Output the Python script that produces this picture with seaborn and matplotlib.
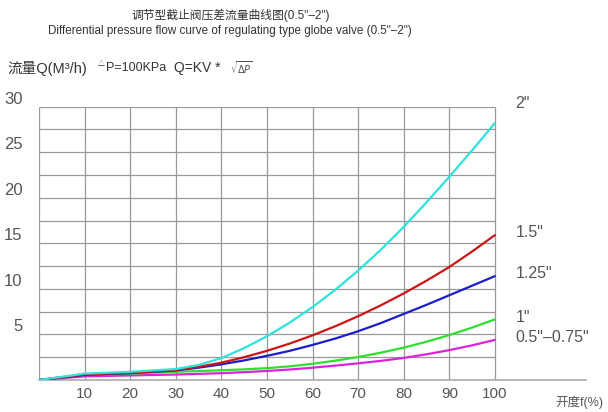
import numpy as np
import pandas as pd
import matplotlib
matplotlib.use('Agg')
import matplotlib.pyplot as plt
import seaborn as sns

# opening (%) and flow Q (m3/h) per valve size
opening = [0, 10, 20, 30, 35, 40, 45, 50, 55, 60, 65, 70, 75, 80, 85, 90, 95, 100]
q_2in = [0, 0.7, 0.9, 1.2, 1.65, 2.4, 3.5, 4.8, 6.3, 8.0, 9.9, 12.0, 14.3, 16.8, 19.5, 22.3, 25.2, 28.2]
q_15in = [0, 0.6, 0.8, 1.1, 1.45, 1.9, 2.5, 3.2, 4.0, 4.9, 5.9, 7.0, 8.2, 9.5, 10.9, 12.4, 14.1, 15.9]
q_125in = [0, 0.55, 0.75, 1.05, 1.35, 1.72, 2.15, 2.65, 3.2, 3.85, 4.55, 5.35, 6.25, 7.25, 8.25, 9.3, 10.35, 11.4]
q_1in = [0, 0.55, 0.7, 0.9, 0.98, 1.07, 1.17, 1.3, 1.5, 1.78, 2.12, 2.52, 3.0, 3.55, 4.2, 4.93, 5.75, 6.65]
q_05in = [0, 0.4, 0.5, 0.6, 0.67, 0.75, 0.86, 0.99, 1.15, 1.35, 1.58, 1.83, 2.1, 2.42, 2.82, 3.28, 3.8, 4.4]

sizes = ['2"', '1.5"', '1.25"', '1"', '0.5"–0.75"']
series = [q_2in, q_15in, q_125in, q_1in, q_05in]
colors = ['#2fe3dc', '#cc1515', '#1c1cc8', '#2ee02e', '#dd22dd']
label_y = [30.4, 16.2, 11.7, 6.9, 4.7]

df = pd.DataFrame({
    'opening': opening * len(sizes),
    'flow': sum(series, []),
    'size': [s for s in sizes for _ in opening],
})

sns.set_style('white')
plt.rcParams['font.family'] = ['Liberation Sans', 'Noto Sans CJK SC', 'DejaVu Sans']

fig = plt.figure(figsize=(6.08, 4.12), dpi=100)
ax = fig.add_axes([39 / 608, 32 / 412, 547 / 608, 273.3 / 412])

grid_c = '#999999'
ax.hlines(np.arange(2.5, 30.01, 2.5), 0, 100, color=grid_c, lw=0.9, zorder=1)
ax.vlines(np.arange(0, 101, 10), 0, 30, color=grid_c, lw=0.9, zorder=1)

sns.lineplot(data=df, x='opening', y='flow', hue='size', palette=dict(zip(sizes, colors)),
             hue_order=sizes[::-1], lw=1.6, legend=False, ax=ax, zorder=3)

ax.set_xlim(0, 120)
ax.set_ylim(0, 30)
for side in ['top', 'right', 'left']:
    ax.spines[side].set_visible(False)
ax.spines['bottom'].set_color('#aaaaaa')
ax.spines['bottom'].set_linewidth(1.2)

ax.set_xticks(range(10, 101, 10))
ax.set_xticklabels([str(v) for v in range(10, 101, 10)])
ax.set_yticks(range(5, 31, 5))
ax.set_yticklabels([str(v) for v in range(5, 31, 5)])
ax.tick_params(axis='both', length=0, labelsize=11, colors='#555555')
ax.tick_params(axis='y', labelsize=12, pad=12)
ax.tick_params(axis='x', pad=5)
for lab in ax.get_yticklabels():
    lab.set_verticalalignment('bottom')
    lab.set_horizontalalignment('right')
ax.set_xlabel('')
ax.set_ylabel('')

for s, y in zip(sizes, label_y):
    ax.text(104.5, y, s, fontsize=11.5, color='#555555', va='center', ha='left')

fig.text(603 / 608, 1 - 402 / 412, '开度f(%)', fontsize=9,
         color='#555555', ha='right', va='center')

fig.text(231 / 608, 1 - 15 / 412, '调节型截止阀压差流量曲线图(0.5"–2")', fontsize=8.5,
         color='#333333', ha='center', va='center')
fig.text(230 / 608, 1 - 31 / 412, 'Differential pressure flow curve of regulating type globe valve (0.5"–2")',
         fontsize=8.4, color='#333333', ha='center', va='center')

ty = 1 - 68 / 412
fig.text(7 / 608, ty, '流量Q(M³/h)', fontsize=10.5, color='#333333', va='center')
fig.text(98 / 608, ty + 0.008, '△', fontsize=5, color='#333333', va='center')
fig.text(106 / 608, ty, 'P=100KPa', fontsize=9, color='#333333', va='center')
fig.text(174 / 608, ty, 'Q=KV *', fontsize=10, color='#333333', va='center')
fig.text(230 / 608, ty, r'$\sqrt{\Delta P}$', fontsize=7, color='#555555', va='center')

fig.savefig('out.png', dpi=100)
